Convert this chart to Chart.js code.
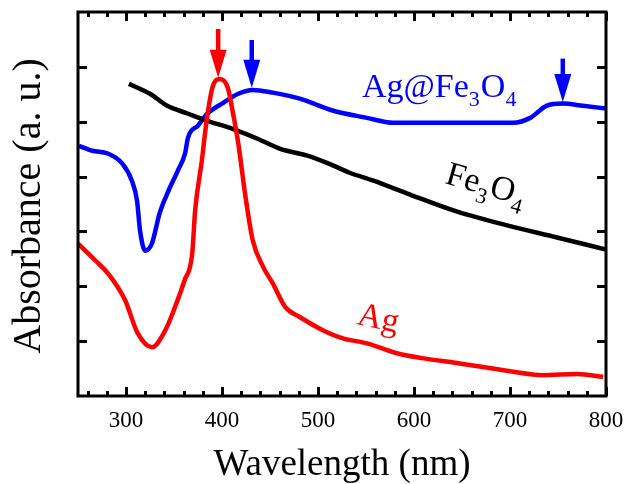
<!DOCTYPE html>
<html><head><meta charset="utf-8">
<script src="https://cdn.jsdelivr.net/npm/chart.js@4.4.0/dist/chart.umd.min.js"></script>
<style>html,body{margin:0;padding:0;background:#fff;}#wrap{width:627px;height:484px;}</style>
</head><body><div id="wrap"><canvas id="c" width="627" height="484"></canvas></div>
<script>
// ---- data (wavelength nm / absorbance a.u.) ----
const agX = [250,268,281,299,312,327,341,351,361,369,372,379,384,390,398,406,411,417,424,432,443,453,466,481,505,526,551,582,609,645,672,700,734,770,797];
const agY = [2.78,2.47,2.24,1.75,1.15,0.89,1.2,1.62,2.11,2.6,3.38,4.29,5.02,5.62,5.78,5.62,5.2,4.6,3.69,2.84,2.35,2.05,1.62,1.44,1.2,1.05,0.96,0.78,0.69,0.6,0.53,0.45,0.38,0.40,0.35];
const agFeX = [251,265,281,296,306,311.5,314.6,320,327,335,343,354,361.5,364.6,375,385,400,417,432,453,481,516,551,578,627,679,703,721,738,755,776,800];
const agFeY = [4.56,4.47,4.42,4.24,3.93,3.56,3.02,2.65,2.78,3.33,3.69,4.11,4.42,4.71,4.93,5.15,5.33,5.51,5.58,5.53,5.42,5.2,5.07,4.98,4.98,4.98,4.98,5.07,5.29,5.33,5.29,5.24];
const feX = [303,325,343,364,384,411,437,460,489,516,533,557,593,645,697,749,800];
const feY = [5.69,5.51,5.29,5.15,5.02,4.87,4.69,4.51,4.38,4.2,4.07,3.93,3.69,3.36,3.11,2.89,2.67];
const xTicks = [300,400,500,600,700,800];
const xMinorTicks = [260,280,320,340,360,380,420,440,460,480,520,540,560,580,620,640,660,680,720,740,760,780];
const yTicks = [1,2,3,4,5,6];
// arrows: x position, start value, tip value
const arrowX = [396,431,755];
const arrowFrom = [6.69,6.49,6.15];
const arrowTo = [5.80,5.62,5.36];
const arrowColor = ['#ff0000','#0000ff','#0000ff'];

const SERIF = '"Liberation Serif","Times New Roman",serif';
const pts = (xs, ys) => xs.map((x, i) => ({x, y: ys[i]}));

function drawParts(ctx, parts, x, y, color, angle, size, subSize) {
  ctx.save();
  ctx.translate(x, y);
  ctx.rotate(angle * Math.PI / 180);
  ctx.fillStyle = color;
  ctx.textBaseline = 'alphabetic';
  ctx.textAlign = 'left';
  let cx = 0;
  for (const p of parts) {
    ctx.font = (p.sub ? subSize : size) + 'px ' + SERIF;
    ctx.fillText(p.t, cx, p.sub ? subSize * 0.42 : 0);
    cx += ctx.measureText(p.t).width + (p.sub ? 1 : 0);
  }
  ctx.restore();
}

const decor = {
  id: 'decor',
  afterDatasetsDraw(chart) {
    const ctx = chart.ctx, a = chart.chartArea, sx = chart.scales.x, sy = chart.scales.y;
    ctx.save();
    // arrows
    for (let i = 0; i < arrowX.length; i++) {
      const px = sx.getPixelForValue(arrowX[i]);
      const y0 = sy.getPixelForValue(arrowFrom[i]);
      const y1 = sy.getPixelForValue(arrowTo[i]);
      const head = 28;
      ctx.strokeStyle = arrowColor[i]; ctx.fillStyle = arrowColor[i];
      ctx.lineWidth = 4.5;
      ctx.beginPath(); ctx.moveTo(px, y0); ctx.lineTo(px, y1 - head + 4); ctx.stroke();
      ctx.beginPath(); ctx.moveTo(px - 8.5, y1 - head); ctx.lineTo(px + 8.5, y1 - head); ctx.lineTo(px, y1); ctx.closePath(); ctx.fill();
    }
    // frame
    ctx.strokeStyle = '#000'; ctx.lineWidth = 3;
    ctx.strokeRect(a.left, a.top, a.right - a.left, a.bottom - a.top);
    ctx.beginPath();
    const tick = (v, len) => {
      const px = Math.round(sx.getPixelForValue(v)) + 0.5;
      ctx.moveTo(px, a.bottom); ctx.lineTo(px, a.bottom - len);
      ctx.moveTo(px, a.top); ctx.lineTo(px, a.top + len);
    };
    xTicks.forEach(v => tick(v, 9));
    xMinorTicks.forEach(v => tick(v, 5));
    yTicks.forEach(v => {
      const py = Math.round(sy.getPixelForValue(v)) + 0.5;
      ctx.moveTo(a.left, py); ctx.lineTo(a.left + 9, py);
      ctx.moveTo(a.right, py); ctx.lineTo(a.right - 9, py);
    });
    ctx.stroke();
    // curve labels
    drawParts(ctx, [{t:'Ag@Fe'},{t:'3',sub:true},{t:'O'},{t:'4',sub:true}], 362, 97, '#0000ff', 0, 34, 22);
    drawParts(ctx, [{t:'Fe'},{t:'3',sub:true},{t:'O'},{t:'4',sub:true}], 444, 183, '#000000', 16, 34, 22);
    drawParts(ctx, [{t:'Ag'}], 356, 324, '#ff0000', 12, 34, 22);
    // axis titles
    ctx.fillStyle = '#000';
    ctx.font = '37px ' + SERIF;
    ctx.textAlign = 'center'; ctx.textBaseline = 'alphabetic';
    ctx.fillText('Wavelength (nm)', (a.left + a.right) / 2, 475);
    ctx.save();
    ctx.translate(40, 206);
    ctx.rotate(-Math.PI / 2);
    ctx.font = '40px ' + SERIF;
    ctx.fillText('Absorbance (a. u.)', 0, 0);
    ctx.restore();
    ctx.restore();
  }
};

const lineDs = (label, data, color) => ({
  label, data, borderColor: color, backgroundColor: color, borderWidth: 4.5,
  pointRadius: 0, cubicInterpolationMode: 'monotone', fill: false
});

new Chart(document.getElementById('c'), {
  type: 'line',
  data: { datasets: [
    lineDs('Ag', pts(agX, agY), '#ff0000'),
    lineDs('Fe3O4', pts(feX, feY), '#000000'),
    lineDs('Ag@Fe3O4', pts(agFeX, agFeY), '#0000ff')
  ]},
  options: {
    responsive: false, animation: false, devicePixelRatio: 1,
    layout: { padding: { top: 12, right: 21, left: 0, bottom: 0 } },
    plugins: { legend: { display: false }, tooltip: { enabled: false } },
    scales: {
      x: {
        type: 'linear', min: 250, max: 800, position: 'bottom',
        grid: { display: false, drawTicks: false }, border: { display: false },
        ticks: { color: '#000', font: { family: SERIF, size: 23 }, padding: 11, maxRotation: 0, autoSkip: false },
        afterBuildTicks: s => { s.ticks = xTicks.map(v => ({ value: v })); },
        afterFit: s => { s.height = 88; s.paddingLeft = 0; s.paddingRight = 0; }
      },
      y: {
        type: 'linear', min: 0, max: 7,
        grid: { display: false, drawTicks: false }, border: { display: false },
        ticks: { display: false },
        afterFit: s => { s.width = 78; s.paddingTop = 0; s.paddingBottom = 0; }
      }
    }
  },
  plugins: [decor]
});
</script>
</body></html>
